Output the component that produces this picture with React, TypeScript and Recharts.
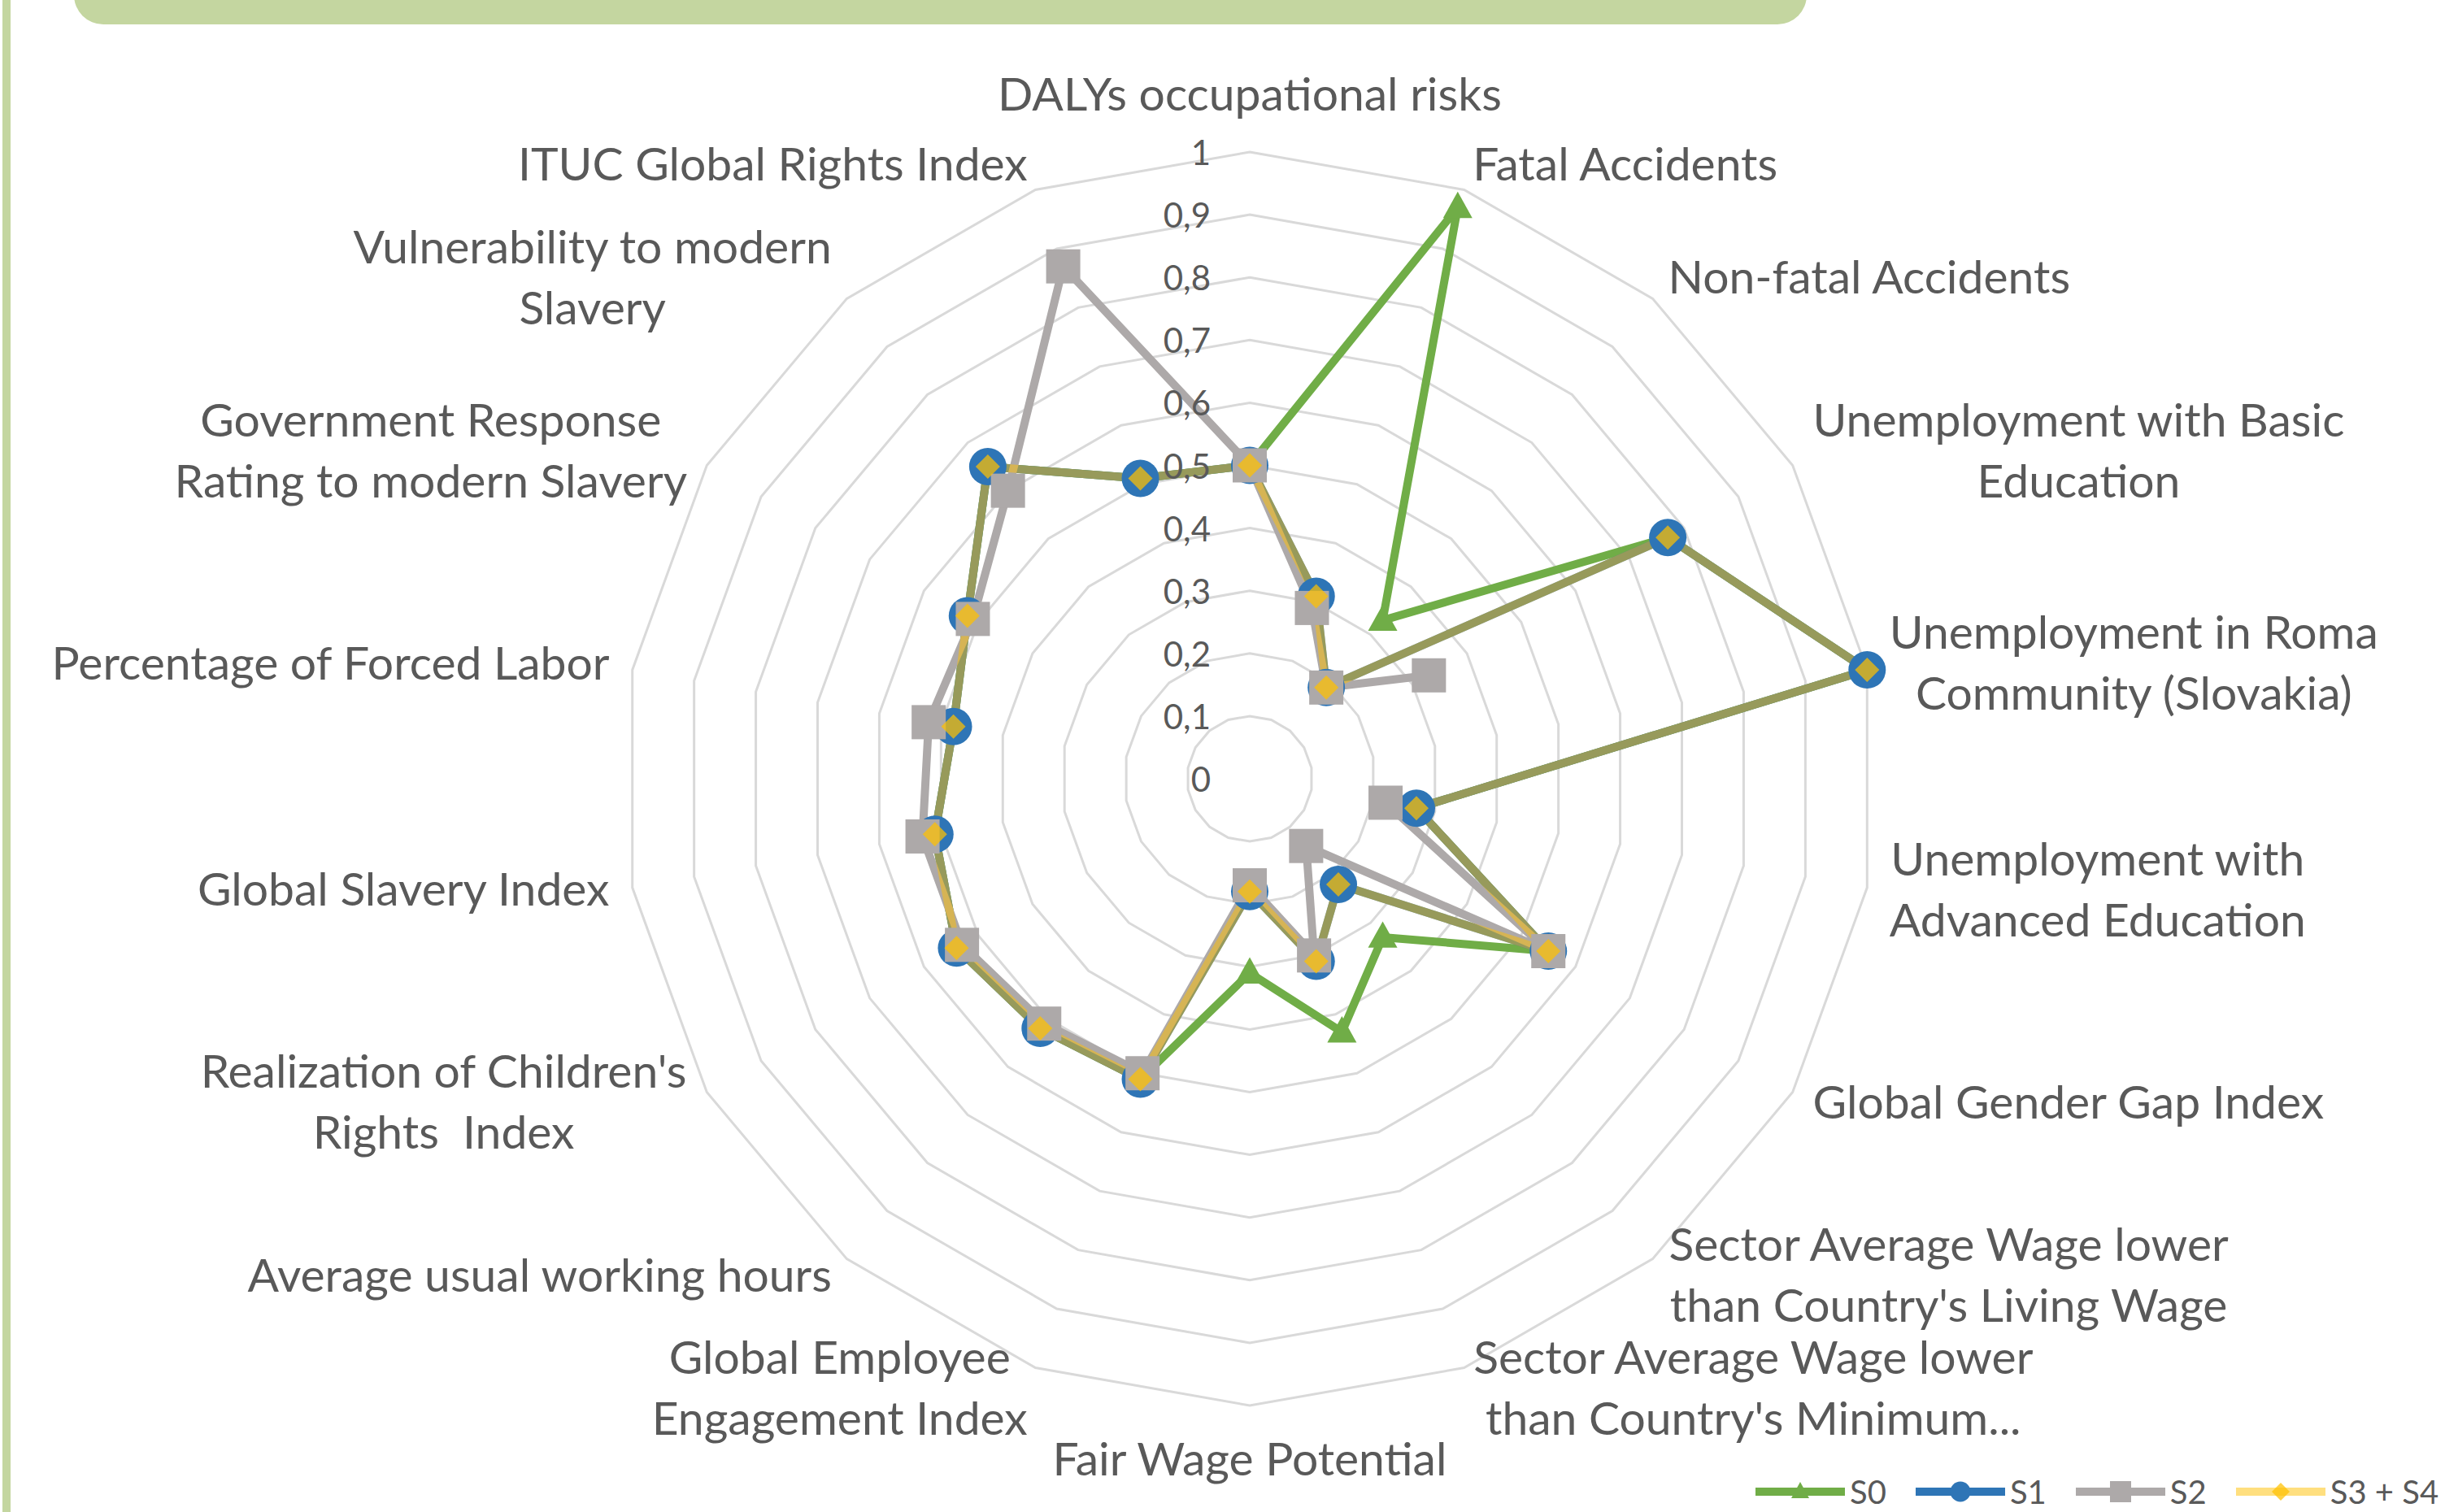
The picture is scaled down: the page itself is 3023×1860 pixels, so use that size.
import React from 'react';
import { RadarChart, Radar, PolarGrid, PolarAngleAxis, PolarRadiusAxis, Legend } from 'recharts';

// ---------- data ----------
const categories: string[] = [
  'DALYs occupational risks',
  'Fatal Accidents',
  'Non-fatal Accidents',
  'Unemployment with Basic Education',
  'Unemployment in Roma Community (Slovakia)',
  'Unemployment with Advanced Education',
  'Global Gender Gap Index',
  "Sector Average Wage lower than Country's Living Wage",
  "Sector Average Wage lower than Country's Minimum...",
  'Fair Wage Potential',
  'Global Employee Engagement Index',
  'Average usual working hours',
  "Realization of Children's Rights  Index",
  'Global Slavery Index',
  'Percentage of Forced Labor',
  'Government Response Rating to modern Slavery',
  'Vulnerability to modern Slavery',
  'ITUC Global Rights Index',
];

const categoryLabelLines: string[][] = [
  ['DALYs occupational risks'],
  ['Fatal Accidents'],
  ['Non-fatal Accidents'],
  ['Unemployment with Basic', 'Education'],
  ['Unemployment in Roma', 'Community (Slovakia)'],
  ['Unemployment with', 'Advanced Education'],
  ['Global Gender Gap Index'],
  ['Sector Average Wage lower', "than Country's Living Wage"],
  ['Sector Average Wage lower', "than Country's Minimum..."],
  ['Fair Wage Potential'],
  ['Global Employee', 'Engagement Index'],
  ['Average usual working hours'],
  ["Realization of Children's", 'Rights  Index'],
  ['Global Slavery Index'],
  ['Percentage of Forced Labor'],
  ['Government Response', 'Rating to modern Slavery'],
  ['Vulnerability to modern', 'Slavery'],
  ['ITUC Global Rights Index'],
];

const s0: (number | null)[] = [0.5, 0.97, 0.33, 0.77, 1.0, 0.27, 0.55, 0.33, 0.43, 0.31, 0.51, 0.52, 0.54, 0.51, 0.48, 0.52, 0.65, 0.51];
const s1: (number | null)[] = [0.5, 0.31, 0.19, 0.77, 1.0, 0.27, 0.55, 0.22, 0.31, 0.18, 0.51, 0.52, 0.54, 0.51, 0.48, 0.52, 0.65, 0.51];
const s2: (number | null)[] = [0.5, 0.29, 0.19, 0.33, null, 0.22, 0.55, 0.14, 0.30, 0.17, 0.50, 0.51, 0.53, 0.53, 0.52, 0.51, 0.60, 0.87];
const s3: (number | null)[] = [0.5, 0.31, 0.19, 0.77, 1.0, 0.27, 0.55, 0.22, 0.31, 0.18, 0.51, 0.52, 0.54, 0.51, 0.48, 0.52, 0.65, 0.51];

const seriesNames: string[] = ['S0', 'S1', 'S2', 'S3 + S4'];
const radiusTicks: number[] = [0, 0.1, 0.2, 0.3, 0.4, 0.5, 0.6, 0.7, 0.8, 0.9, 1];
const radiusTickLabels: string[] = ['0', '0,1', '0,2', '0,3', '0,4', '0,5', '0,6', '0,7', '0,8', '0,9', '1'];

const data = categories.map((c, i) => ({ category: c, S0: s0[i], S1: s1[i], S2: s2[i], S3: s3[i] }));

// ---------- layout / style ----------
const W = 3023;
const H = 1860;
const CX = 1537;
const CY = 958;
const R = 771;
const FONT = 'Lato, "Open Sans", "DejaVu Sans", sans-serif';
const TEXT = '#595959';
const LABEL_SIZE = 57;
const LH = 75;

type Cfg = { key: string; name: string; color: string; opacity: number; markerOpacity: number; kind: string; size: number };
const cfgs: Cfg[] = [
  { key: 'S0', name: seriesNames[0], color: '#70AD47', opacity: 1, markerOpacity: 1, kind: 'triangle', size: 36 },
  { key: 'S1', name: seriesNames[1], color: '#2E75B6', opacity: 1, markerOpacity: 1, kind: 'circle', size: 46 },
  { key: 'S2', name: seriesNames[2], color: '#ADA9A9', opacity: 1, markerOpacity: 1, kind: 'square', size: 42 },
  { key: 'S3', name: seriesNames[3], color: '#FFC000', opacity: 0.5, markerOpacity: 0.72, kind: 'diamond', size: 30 },
];

let measureCtx: CanvasRenderingContext2D | null = null;
function textWidth(t: string, size: number): number {
  if (!measureCtx && typeof document !== 'undefined') {
    measureCtx = document.createElement('canvas').getContext('2d');
  }
  if (!measureCtx) return t.length * size * 0.5;
  measureCtx.font = `${size}px Lato`;
  return measureCtx.measureText(t).width;
}

function AngleTick(props: any) {
  const { payload } = props;
  const idx = categories.indexOf(payload.value);
  const lines = categoryLabelLines[idx] || [String(payload.value)];
  const a = ((90 - payload.coordinate) * Math.PI) / 180;
  const s = Math.sin(a);
  const c = Math.cos(a);
  const vx = CX + R * s;
  const vy = CY - R * c;
  let centerX: number;
  let centerY: number;
  if (Math.abs(s) < 0.1) {
    centerX = vx;
    centerY = c > 0 ? vy - 73 : vy + 64;
  } else {
    const maxW = Math.max(...lines.map((l) => textWidth(l, LABEL_SIZE)));
    const gap = 28 * Math.abs(s);
    centerX = s > 0 ? vx + gap + maxW / 2 : vx - gap - maxW / 2;
    centerY = vy - 30 * c - 5;
  }
  return (
    <g>
      {lines.map((l, k) => (
        <text
          key={k}
          x={centerX}
          y={centerY + (k - (lines.length - 1) / 2) * LH}
          textAnchor="middle"
          dominantBaseline="central"
          fontFamily={FONT}
          fontSize={LABEL_SIZE}
          fill={TEXT}
          style={{ whiteSpace: 'pre' }}
        >
          {l}
        </text>
      ))}
    </g>
  );
}

function RadiusTick(props: any) {
  const { x, y, payload } = props;
  const label = radiusTickLabels[Math.round(payload.value * 10)] ?? String(payload.value);
  return (
    <text x={x - 48} y={y} textAnchor="end" dominantBaseline="central" fontFamily={FONT} fontSize={42} fill={TEXT}>
      {label}
    </text>
  );
}

function validPoint(p: any) {
  return p && p.value != null && Number.isFinite(p.x) && Number.isFinite(p.y);
}

function makeShape(cfg: Cfg) {
  return (props: any) => {
    const points: any[] = props.points || [];
    const n = points.length;
    const bad = points.findIndex((p) => !validPoint(p));
    let d = '';
    if (bad < 0) {
      d = points.map((p, i) => `${i ? 'L' : 'M'}${p.x},${p.y}`).join('') + 'Z';
    } else {
      let pen = false;
      for (let k = 1; k <= n; k++) {
        const p = points[(bad + k) % n];
        if (!validPoint(p)) {
          pen = false;
          continue;
        }
        d += `${pen ? 'L' : 'M'}${p.x},${p.y}`;
        pen = true;
      }
    }
    return (
      <path d={d} fill="none" stroke={cfg.color} strokeOpacity={cfg.opacity} strokeWidth={10} strokeLinejoin="round" strokeLinecap="round" />
    );
  };
}

function markerEl(kind: string, x: number, y: number, size: number, color: string, opacity: number, key?: any) {
  const h = size / 2;
  if (kind === 'circle') return <circle key={key} cx={x} cy={y} r={h} fill={color} fillOpacity={opacity} />;
  if (kind === 'square') return <rect key={key} x={x - h} y={y - h} width={size} height={size} fill={color} fillOpacity={opacity} />;
  if (kind === 'diamond')
    return <polygon key={key} points={`${x},${y - h} ${x + h},${y} ${x},${y + h} ${x - h},${y}`} fill={color} fillOpacity={opacity} />;
  const th = size * 0.9;
  return (
    <polygon key={key} points={`${x},${y - th * 0.6} ${x + h},${y + th * 0.4} ${x - h},${y + th * 0.4}`} fill={color} fillOpacity={opacity} />
  );
}

function makeDot(cfg: Cfg) {
  return (props: any) => {
    const { cx, cy, payload, index } = props;
    const v = payload && 'value' in payload ? payload.value : props.value;
    if (v == null || !Number.isFinite(cx) || !Number.isFinite(cy)) return <g key={`e-${cfg.key}-${index}`} />;
    return markerEl(cfg.kind, cx, cy, cfg.size, cfg.color, cfg.markerOpacity, `d-${cfg.key}-${index}`);
  };
}

function LegendContent() {
  return (
    <div style={{ display: 'flex', alignItems: 'center', fontFamily: FONT, fontSize: 40, color: TEXT, lineHeight: '34px', height: 34, whiteSpace: 'nowrap' }}>
      {cfgs.map((cfg) => (
        <div key={cfg.key} style={{ display: 'flex', alignItems: 'center', marginRight: 36, flex: 'none' }}>
          <svg width={110} height={34} style={{ display: 'block' }}>
            <line x1={0} y1={17} x2={110} y2={17} stroke={cfg.color} strokeOpacity={cfg.opacity} strokeWidth={10} />
            {markerEl(cfg.kind, 55, 17, cfg.kind === 'square' ? 26 : cfg.kind === 'circle' ? 25 : 22, cfg.color, cfg.markerOpacity)}
          </svg>
          <span style={{ marginLeft: 6 }}>{cfg.name}</span>
        </div>
      ))}
    </div>
  );
}

export default function App() {
  return (
    <div style={{ position: 'absolute', left: 0, top: 0, width: W, height: H, background: '#FFFFFF', overflow: 'hidden' }}>
      <div style={{ position: 'absolute', left: 3, top: 0, width: 10, height: H, background: '#C4D6A0' }} />
      <div
        style={{
          position: 'absolute',
          left: 91,
          top: -60,
          width: 2131,
          height: 90,
          background: '#C4D6A0',
          borderRadius: 36,
        }}
      />
      <div style={{ position: 'absolute', left: 0, top: 0 }}>
        <RadarChart
          width={W}
          height={H}
          data={data}
          cx={CX}
          cy={CY}
          outerRadius={R}
          startAngle={90}
          endAngle={-270}
          margin={{ top: 0, right: 0, bottom: 0, left: 0 }}
        >
          <PolarGrid gridType="polygon" radialLines={false} stroke="#D9D9D9" strokeWidth={3} />
          <PolarAngleAxis dataKey="category" tick={AngleTick} tickLine={false} axisLine={false} />
          <PolarRadiusAxis
            angle={90}
            type="number"
            domain={[0, 1]}
            ticks={radiusTicks as any}
            tickCount={11}
            allowDecimals={true}
            axisLine={false}
            tickLine={false}
            tick={RadiusTick}
          />
          {cfgs.map((cfg) => (
            <Radar
              key={cfg.key}
              name={cfg.name}
              dataKey={cfg.key}
              stroke={cfg.color}
              strokeWidth={10}
              fill="none"
              fillOpacity={0}
              shape={makeShape(cfg)}
              dot={makeDot(cfg)}
              isAnimationActive={false}
            />
          ))}
          <Legend
            verticalAlign="bottom"
            content={() => <LegendContent />}
            wrapperStyle={{ left: 2159, top: 1818, bottom: 'auto', width: 860, height: 34 }}
          />
        </RadarChart>
      </div>
    </div>
  );
}
